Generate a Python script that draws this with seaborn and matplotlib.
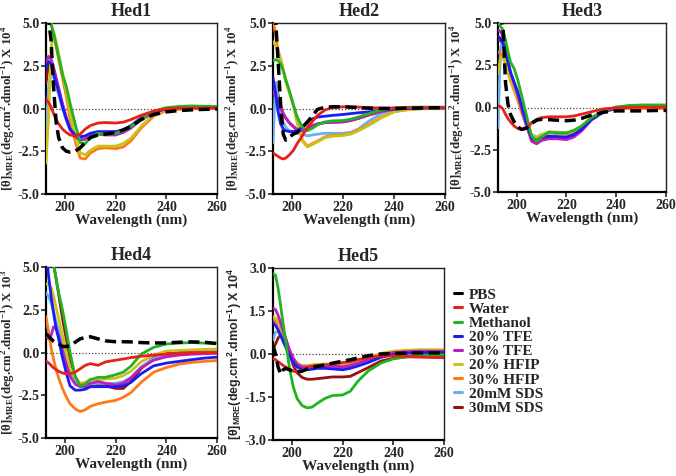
import matplotlib
matplotlib.use("Agg")
import matplotlib.pyplot as plt
import matplotlib.lines as mlines
import numpy as np
import pandas as pd
import seaborn as sns

# ---------------- data ----------------
wavelength = [192.5, 193.5, 194.5, 195.5, 196.5, 197.5, 199, 200.5, 202, 204, 206, 208,
              210, 213, 216, 220, 223, 226, 230, 235, 240, 245, 250, 255, 260]

solvents = ["PBS", "Water", "Methanol", "20% TFE", "30% TFE",
            "20% HFIP", "30% HFIP", "20mM SDS", "30mM SDS"]
colors = ["#000000", "#e8201c", "#21b321", "#1c1cf0", "#c01cc0",
          "#c9c21a", "#ff7a14", "#6ab0ef", "#9a0f0f"]

# Hed1 (x 10^4)
hed1_pbs = [5.5, 5.2, 4.0, 1.2, -0.8, -1.7, -2.3, -2.5, -2.55, -2.5, -2.3, -2.0, -1.7, -1.55, -1.5, -1.4, -1.25, -1.05, -0.65, -0.35, -0.2, -0.12, -0.08, -0.05, -0.03]
hed1_water = [0.55, 0.35, 0.1, -0.3, -0.65, -0.9, -1.2, -1.4, -1.55, -1.6, -1.5, -1.2, -1.0, -0.85, -0.82, -0.85, -0.8, -0.65, -0.4, -0.15, -0.02, 0.02, 0.03, 0.03, 0.03]
hed1_methanol = [5.5, 5.2, 4.9, 4.4, 3.7, 3.0, 2.0, 1.3, 0.3, -0.9, -2.0, -2.05, -1.7, -1.45, -1.5, -1.45, -1.3, -1.05, -0.6, -0.15, 0.05, 0.12, 0.15, 0.13, 0.12]
hed1_tfe20 = [2.3, 2.75, 2.6, 2.0, 1.5, 1.0, 0.1, -0.6, -1.2, -1.55, -1.65, -1.6, -1.45, -1.35, -1.35, -1.35, -1.25, -1.0, -0.55, -0.2, 0.0, 0.07, 0.08, 0.07, 0.05]
hed1_tfe30 = [2.7, 3.05, 2.9, 2.4, 1.8, 1.2, 0.3, -0.5, -1.2, -1.65, -1.85, -1.8, -1.6, -1.5, -1.55, -1.55, -1.4, -1.15, -0.65, -0.25, -0.02, 0.05, 0.06, 0.06, 0.05]
hed1_hfip20 = [-3.2, -0.5, 3.5, 4.5, 3.9, 3.2, 2.1, 1.0, -0.3, -1.6, -2.6, -2.7, -2.45, -2.2, -2.2, -2.2, -2.05, -1.75, -1.05, -0.35, -0.05, 0.03, 0.05, 0.05, 0.05]
hed1_hfip30 = [5.5, 5.3, 5.0, 4.4, 3.6, 2.9, 1.8, 0.7, -0.6, -1.9, -2.9, -2.95, -2.6, -2.35, -2.3, -2.35, -2.25, -1.9, -1.15, -0.45, -0.12, -0.05, -0.02, 0.0, 0.0]
hed1_sds20 = [-1.6, 1.2, 2.2, 1.8, 1.3, 0.8, 0.0, -0.7, -1.25, -1.6, -1.7, -1.65, -1.5, -1.4, -1.4, -1.4, -1.3, -1.05, -0.6, -0.2, 0.0, 0.05, 0.06, 0.05, 0.05]
hed1_sds30 = [1.5, 2.6, 2.7, 2.3, 1.7, 1.1, 0.2, -0.6, -1.25, -1.65, -1.8, -1.75, -1.55, -1.45, -1.5, -1.5, -1.35, -1.1, -0.6, -0.22, -0.02, 0.04, 0.05, 0.05, 0.04]

# Hed2 (x 10^4)
hed2_pbs = [5.5, 5.2, 2.8, 0.2, -1.5, -1.85, -1.65, -1.5, -1.4, -1.1, -0.8, -0.4, -0.05, 0.08, 0.1, 0.1, 0.08, 0.05, 0.02, 0.0, 0.0, 0.02, 0.03, 0.04, 0.05]
hed2_water = [-2.6, -2.7, -2.8, -2.9, -2.95, -2.9, -2.7, -2.45, -2.05, -1.6, -1.1, -0.75, -0.4, -0.08, 0.06, 0.1, 0.1, 0.08, 0.05, 0.03, 0.03, 0.04, 0.05, 0.05, 0.05]
hed2_methanol = [2.8, 2.85, 2.8, 2.6, 2.2, 1.7, 1.0, 0.2, -0.5, -1.1, -1.3, -1.15, -0.95, -0.78, -0.72, -0.7, -0.62, -0.5, -0.3, -0.1, 0.03, 0.07, 0.08, 0.08, 0.08]
hed2_tfe20 = [1.8, 0.9, -0.2, -0.9, -1.2, -1.3, -1.35, -1.35, -1.3, -1.1, -0.75, -0.6, -0.5, -0.45, -0.4, -0.35, -0.3, -0.25, -0.2, -0.1, -0.03, 0.0, 0.02, 0.03, 0.03]
hed2_tfe30 = [1.0, 0.8, 0.4, 0.0, -0.3, -0.55, -0.85, -1.05, -1.25, -1.3, -1.2, -1.0, -0.9, -0.82, -0.8, -0.78, -0.7, -0.58, -0.38, -0.18, -0.05, 0.02, 0.04, 0.05, 0.05]
hed2_hfip20 = [3.9, 3.7, 3.3, 2.9, 2.3, 1.6, 0.9, 0.2, -0.8, -1.9, -2.25, -2.1, -1.95, -1.7, -1.62, -1.58, -1.5, -1.3, -1.0, -0.55, -0.2, -0.08, -0.02, 0.02, 0.03]
hed2_hfip30 = [5.2, 4.3, 3.4, 2.9, 2.3, 1.6, 0.9, 0.2, -0.8, -1.85, -2.2, -2.05, -1.9, -1.65, -1.58, -1.53, -1.45, -1.25, -0.95, -0.5, -0.18, -0.07, -0.02, 0.02, 0.03]
hed2_sds20 = [-2.0, 1.5, 0.6, -0.3, -0.8, -1.1, -1.3, -1.4, -1.45, -1.5, -1.6, -1.55, -1.5, -1.45, -1.45, -1.45, -1.4, -1.2, -0.75, -0.3, -0.05, 0.03, 0.05, 0.05, 0.05]
hed2_sds30 = [0.8, 1.5, 0.8, 0.1, -0.3, -0.55, -0.85, -1.05, -1.25, -1.3, -1.2, -1.0, -0.9, -0.82, -0.8, -0.78, -0.7, -0.58, -0.38, -0.18, -0.05, 0.02, 0.04, 0.05, 0.05]

# Hed3 (x 10^4)
hed3_pbs = [5.5, 5.3, 4.8, 1.5, 0.2, -0.4, -0.85, -1.15, -1.3, -1.2, -0.95, -0.75, -0.7, -0.72, -0.75, -0.78, -0.75, -0.65, -0.45, -0.28, -0.2, -0.2, -0.2, -0.18, -0.17]
hed3_water = [0.1, 0.05, -0.1, -0.4, -0.65, -0.85, -1.1, -1.25, -1.3, -1.25, -0.9, -0.7, -0.6, -0.55, -0.55, -0.55, -0.5, -0.4, -0.25, -0.08, -0.02, 0.0, 0.02, 0.02, 0.02]
hed3_methanol = [5.0, 4.8, 4.6, 4.0, 3.3, 2.7, 2.3, 1.6, 0.7, -0.5, -1.7, -2.0, -1.75, -1.45, -1.5, -1.5, -1.35, -1.1, -0.6, -0.2, 0.03, 0.12, 0.15, 0.15, 0.15]
hed3_tfe20 = [4.2, 4.1, 3.8, 3.3, 2.7, 2.1, 1.5, 0.9, 0.1, -0.9, -1.8, -1.95, -1.75, -1.7, -1.72, -1.75, -1.6, -1.3, -0.7, -0.25, -0.02, 0.06, 0.08, 0.08, 0.08]
hed3_tfe30 = [4.6, 4.5, 4.2, 3.5, 2.8, 2.1, 1.4, 0.7, -0.1, -1.1, -2.0, -2.15, -1.95, -1.85, -1.85, -1.9, -1.75, -1.4, -0.75, -0.25, 0.0, 0.05, 0.06, 0.05, 0.05]
hed3_hfip20 = [2.0, 2.9, 3.0, 2.7, 2.2, 1.7, 1.1, 0.5, -0.2, -1.0, -1.65, -1.8, -1.6, -1.45, -1.45, -1.5, -1.4, -1.15, -0.6, -0.2, 0.0, 0.05, 0.05, 0.05, 0.05]
hed3_hfip30 = [3.3, 3.2, 3.0, 2.6, 2.1, 1.6, 1.0, 0.4, -0.3, -1.05, -1.7, -1.85, -1.65, -1.5, -1.5, -1.55, -1.45, -1.2, -0.65, -0.25, -0.08, -0.05, -0.05, -0.06, -0.06]
hed3_sds20 = [-1.2, 3.5, 4.0, 3.3, 2.6, 1.9, 1.2, 0.5, -0.2, -1.1, -1.6, -1.75, -1.6, -1.5, -1.55, -1.6, -1.5, -1.2, -0.65, -0.22, 0.0, 0.05, 0.06, 0.06, 0.06]
hed3_sds30 = [4.0, 4.0, 3.7, 3.2, 2.6, 2.0, 1.4, 0.8, 0.0, -1.0, -1.85, -2.0, -1.8, -1.75, -1.75, -1.8, -1.65, -1.35, -0.72, -0.25, -0.02, 0.05, 0.07, 0.07, 0.07]

# Hed4 (x 10^3)
hed4_pbs = [1.1, 0.95, 0.8, 0.65, 0.55, 0.5, 0.35, 0.35, 0.4, 0.6, 0.8, 0.88, 0.92, 0.8, 0.68, 0.63, 0.63, 0.62, 0.58, 0.56, 0.56, 0.6, 0.62, 0.6, 0.52]
hed4_water = [-0.5, -0.6, -0.75, -0.9, -1.0, -1.1, -1.2, -1.25, -1.25, -1.15, -0.95, -0.75, -0.65, -0.75, -0.55, -0.45, -0.38, -0.3, -0.22, -0.15, -0.1, -0.05, 0.0, 0.0, 0.0]
hed4_methanol = [7.0, 7.0, 6.5, 5.1, 4.3, 3.5, 2.5, 1.3, 0.0, -1.4, -1.95, -1.85, -1.6, -1.45, -1.45, -1.3, -1.15, -0.8, -0.1, 0.3, 0.5, 0.55, 0.58, 0.55, 0.55]
hed4_tfe20 = [6.0, 4.5, 3.3, 2.3, 1.4, 0.8, -0.3, -1.2, -1.95, -2.2, -2.2, -2.15, -2.0, -2.0, -2.0, -2.0, -1.95, -1.75, -1.25, -0.78, -0.62, -0.52, -0.42, -0.33, -0.27]
hed4_tfe30 = [1.0, 0.8, 1.0, 1.5, 1.4, 1.0, 0.1, -0.7, -1.4, -1.85, -2.0, -1.95, -1.8, -1.7, -1.8, -1.9, -1.8, -1.5, -0.9, -0.45, -0.25, -0.15, -0.1, -0.07, -0.05]
hed4_hfip20 = [4.0, 4.0, 3.8, 3.3, 2.6, 2.0, 1.0, 0.0, -0.9, -1.5, -1.8, -1.75, -1.55, -1.6, -1.55, -1.5, -1.35, -1.1, -0.55, -0.15, 0.08, 0.12, 0.15, 0.18, 0.2]
hed4_hfip30 = [2.1, 1.2, 0.3, -0.4, -1.0, -1.5, -2.1, -2.6, -3.0, -3.3, -3.45, -3.35, -3.15, -3.0, -2.9, -2.8, -2.62, -2.35, -1.75, -1.15, -0.88, -0.68, -0.58, -0.52, -0.47]
hed4_sds20 = [3.5, 3.3, 2.9, 2.4, 1.8, 1.3, 0.4, -0.5, -1.2, -1.7, -2.0, -1.95, -1.85, -1.8, -1.8, -1.8, -1.7, -1.45, -0.85, -0.35, -0.15, -0.05, 0.0, 0.05, 0.08]
hed4_sds30 = [6.0, 6.0, 5.8, 5.2, 4.3, 3.4, 2.0, 0.8, -0.4, -1.4, -1.9, -2.0, -1.9, -1.9, -1.95, -2.1, -2.1, -1.7, -0.95, -0.3, 0.0, 0.08, 0.1, 0.1, 0.1]

# Hed5 (x 10^4)
hed5_pbs = [0.3, 0.0, -0.45, -0.7, -0.55, -0.5, -0.55, -0.6, -0.63, -0.6, -0.52, -0.47, -0.43, -0.38, -0.32, -0.25, -0.2, -0.14, -0.06, 0.0, 0.02, 0.03, 0.04, 0.04, 0.04]
hed5_water = [-0.15, -0.2, -0.27, -0.33, -0.4, -0.45, -0.55, -0.6, -0.62, -0.58, -0.48, -0.42, -0.4, -0.38, -0.35, -0.3, -0.27, -0.2, -0.12, -0.07, -0.07, -0.08, -0.1, -0.12, -0.13]
hed5_methanol = [2.8, 2.75, 2.3, 1.7, 1.05, 0.45, -0.5, -1.15, -1.55, -1.8, -1.88, -1.85, -1.72, -1.55, -1.45, -1.43, -1.3, -0.95, -0.6, -0.32, -0.17, -0.1, -0.06, -0.04, -0.03]
hed5_tfe20 = [1.1, 1.0, 0.85, 0.65, 0.45, 0.25, -0.05, -0.3, -0.45, -0.55, -0.55, -0.53, -0.5, -0.5, -0.52, -0.55, -0.5, -0.42, -0.3, -0.12, -0.02, 0.03, 0.05, 0.05, 0.05]
hed5_tfe30 = [1.6, 1.55, 1.35, 1.1, 0.8, 0.55, 0.15, -0.15, -0.35, -0.45, -0.45, -0.43, -0.4, -0.4, -0.42, -0.45, -0.4, -0.32, -0.2, -0.05, 0.05, 0.08, 0.1, 0.1, 0.1]
hed5_hfip20 = [1.3, 1.25, 1.15, 0.95, 0.75, 0.5, 0.1, -0.15, -0.32, -0.4, -0.4, -0.38, -0.36, -0.35, -0.36, -0.4, -0.35, -0.27, -0.12, 0.02, 0.1, 0.13, 0.15, 0.15, 0.15]
hed5_hfip30 = [1.2, 1.15, 1.05, 0.9, 0.7, 0.5, 0.1, -0.18, -0.35, -0.43, -0.43, -0.4, -0.38, -0.38, -0.4, -0.42, -0.38, -0.3, -0.15, -0.02, 0.05, 0.08, 0.1, 0.1, 0.1]
hed5_sds20 = [0.5, 0.75, 0.8, 0.65, 0.45, 0.25, -0.05, -0.3, -0.45, -0.5, -0.5, -0.48, -0.45, -0.45, -0.45, -0.47, -0.43, -0.35, -0.22, -0.08, 0.0, 0.03, 0.04, 0.05, 0.05]
hed5_sds30 = [0.2, 0.35, 0.55, 0.68, 0.6, 0.35, 0.0, -0.4, -0.65, -0.82, -0.88, -0.88, -0.86, -0.83, -0.8, -0.8, -0.78, -0.65, -0.48, -0.25, -0.15, -0.1, -0.1, -0.1, -0.1]

panel_titles = ["Hed1", "Hed2", "Hed3", "Hed4", "Hed5"]
panel_data = [
    [hed1_pbs, hed1_water, hed1_methanol, hed1_tfe20, hed1_tfe30, hed1_hfip20, hed1_hfip30, hed1_sds20, hed1_sds30],
    [hed2_pbs, hed2_water, hed2_methanol, hed2_tfe20, hed2_tfe30, hed2_hfip20, hed2_hfip30, hed2_sds20, hed2_sds30],
    [hed3_pbs, hed3_water, hed3_methanol, hed3_tfe20, hed3_tfe30, hed3_hfip20, hed3_hfip30, hed3_sds20, hed3_sds30],
    [hed4_pbs, hed4_water, hed4_methanol, hed4_tfe20, hed4_tfe30, hed4_hfip20, hed4_hfip30, hed4_sds20, hed4_sds30],
    [hed5_pbs, hed5_water, hed5_methanol, hed5_tfe20, hed5_tfe30, hed5_hfip20, hed5_hfip30, hed5_sds20, hed5_sds30],
]
y_exponent = ["4", "4", "4", "3", "4"]
y_ticks = [[-5, -2.5, 0, 2.5, 5]] * 4 + [[-3, -1.5, 0, 1.5, 3]]
x_ticks = [200, 220, 240, 260]

# ---------------- style ----------------
sns.set_style("ticks")
plt.rcParams["font.family"] = ["Liberation Serif", "DejaVu Serif"]
plt.rcParams["font.weight"] = "bold"
plt.rcParams["axes.labelweight"] = "bold"
plt.rcParams["axes.titleweight"] = "bold"

fig = plt.figure(figsize=(6.76, 4.76), dpi=100)
W, H = 676.0, 476.0
# axes boxes in pixels: left, top, right, bottom
boxes = [(46, 23, 217, 194), (273, 23, 445, 194), (498, 23, 666, 192),
         (46, 267, 217, 438), (273, 268, 444, 440)]
ylabel_x = [-0.162, -0.172, -0.185, -0.162, -0.17]

draw_order = [8, 7, 6, 5, 4, 3, 2, 1, 0]

for p, (l, t, r, b) in enumerate(boxes):
    ax = fig.add_axes([l / W, 1 - b / H, (r - l) / W, (b - t) / H])
    ax.axhline(0, color="#444444", lw=0.9, ls=(0, (1, 1.6)), zorder=1)
    for i in draw_order:
        df = pd.DataFrame({"wavelength": wavelength, "value": panel_data[p][i]})
        if i == 0:
            sns.lineplot(data=df, x="wavelength", y="value", ax=ax, color=colors[i],
                         lw=2.5, linestyle=(0, (3.2, 1.6)), zorder=5)
        else:
            sns.lineplot(data=df, x="wavelength", y="value", ax=ax, color=colors[i],
                         lw=2.0, zorder=3)
    ax.set_xlim(192.5, 260)
    yt = y_ticks[p]
    ax.set_ylim(yt[0], yt[-1])
    ax.set_yticks(yt)
    ax.set_yticklabels([f"{v:.1f}" for v in yt])
    ax.set_xticks(x_ticks)
    ax.tick_params(axis="both", labelsize=10, length=3.5, width=1.2, pad=1.2, direction="out")
    for lab in ax.get_xticklabels() + ax.get_yticklabels():
        lab.set_fontweight("bold")
    ax.set_xlabel("Wavelength (nm)", fontsize=11, fontweight="bold", labelpad=0)
    ylab = ("[θ]$_\\mathregular{MRE}$(deg.cm$^\\mathregular{2}$.dmol$^\\mathregular{-1}$) X 10$^\\mathregular{"
            + y_exponent[p] + "}$")
    if p == 4:
        ax.set_ylabel(ylab, fontsize=9.0, fontweight="bold",
                      family=["Liberation Sans", "DejaVu Sans"])
    else:
        ax.set_ylabel(ylab, fontsize=9.3, fontweight="bold")
    ax.yaxis.set_label_coords(ylabel_x[p], 0.5)
    ax.set_title(panel_titles[p], fontsize=13, fontweight="bold", pad=5)
    for s in ["left", "bottom"]:
        ax.spines[s].set_linewidth(1.6)
        ax.spines[s].set_color("black")
    for s in ["top", "right"]:
        ax.spines[s].set_linewidth(1.0)
        ax.spines[s].set_color("#222222")
    leg = ax.get_legend()
    if leg is not None:
        leg.remove()

handles = [mlines.Line2D([], [], color=c, lw=2.2) for c in colors]
fig.legend(handles, solvents, loc="upper left", bbox_to_anchor=(454 / W, 1 - 288 / H),
           frameon=False, handlelength=0.5, handletextpad=0.45, borderaxespad=0,
           borderpad=0, labelspacing=0.03, prop={"weight": "bold", "size": 11})

fig.savefig("out.png", dpi=100)
